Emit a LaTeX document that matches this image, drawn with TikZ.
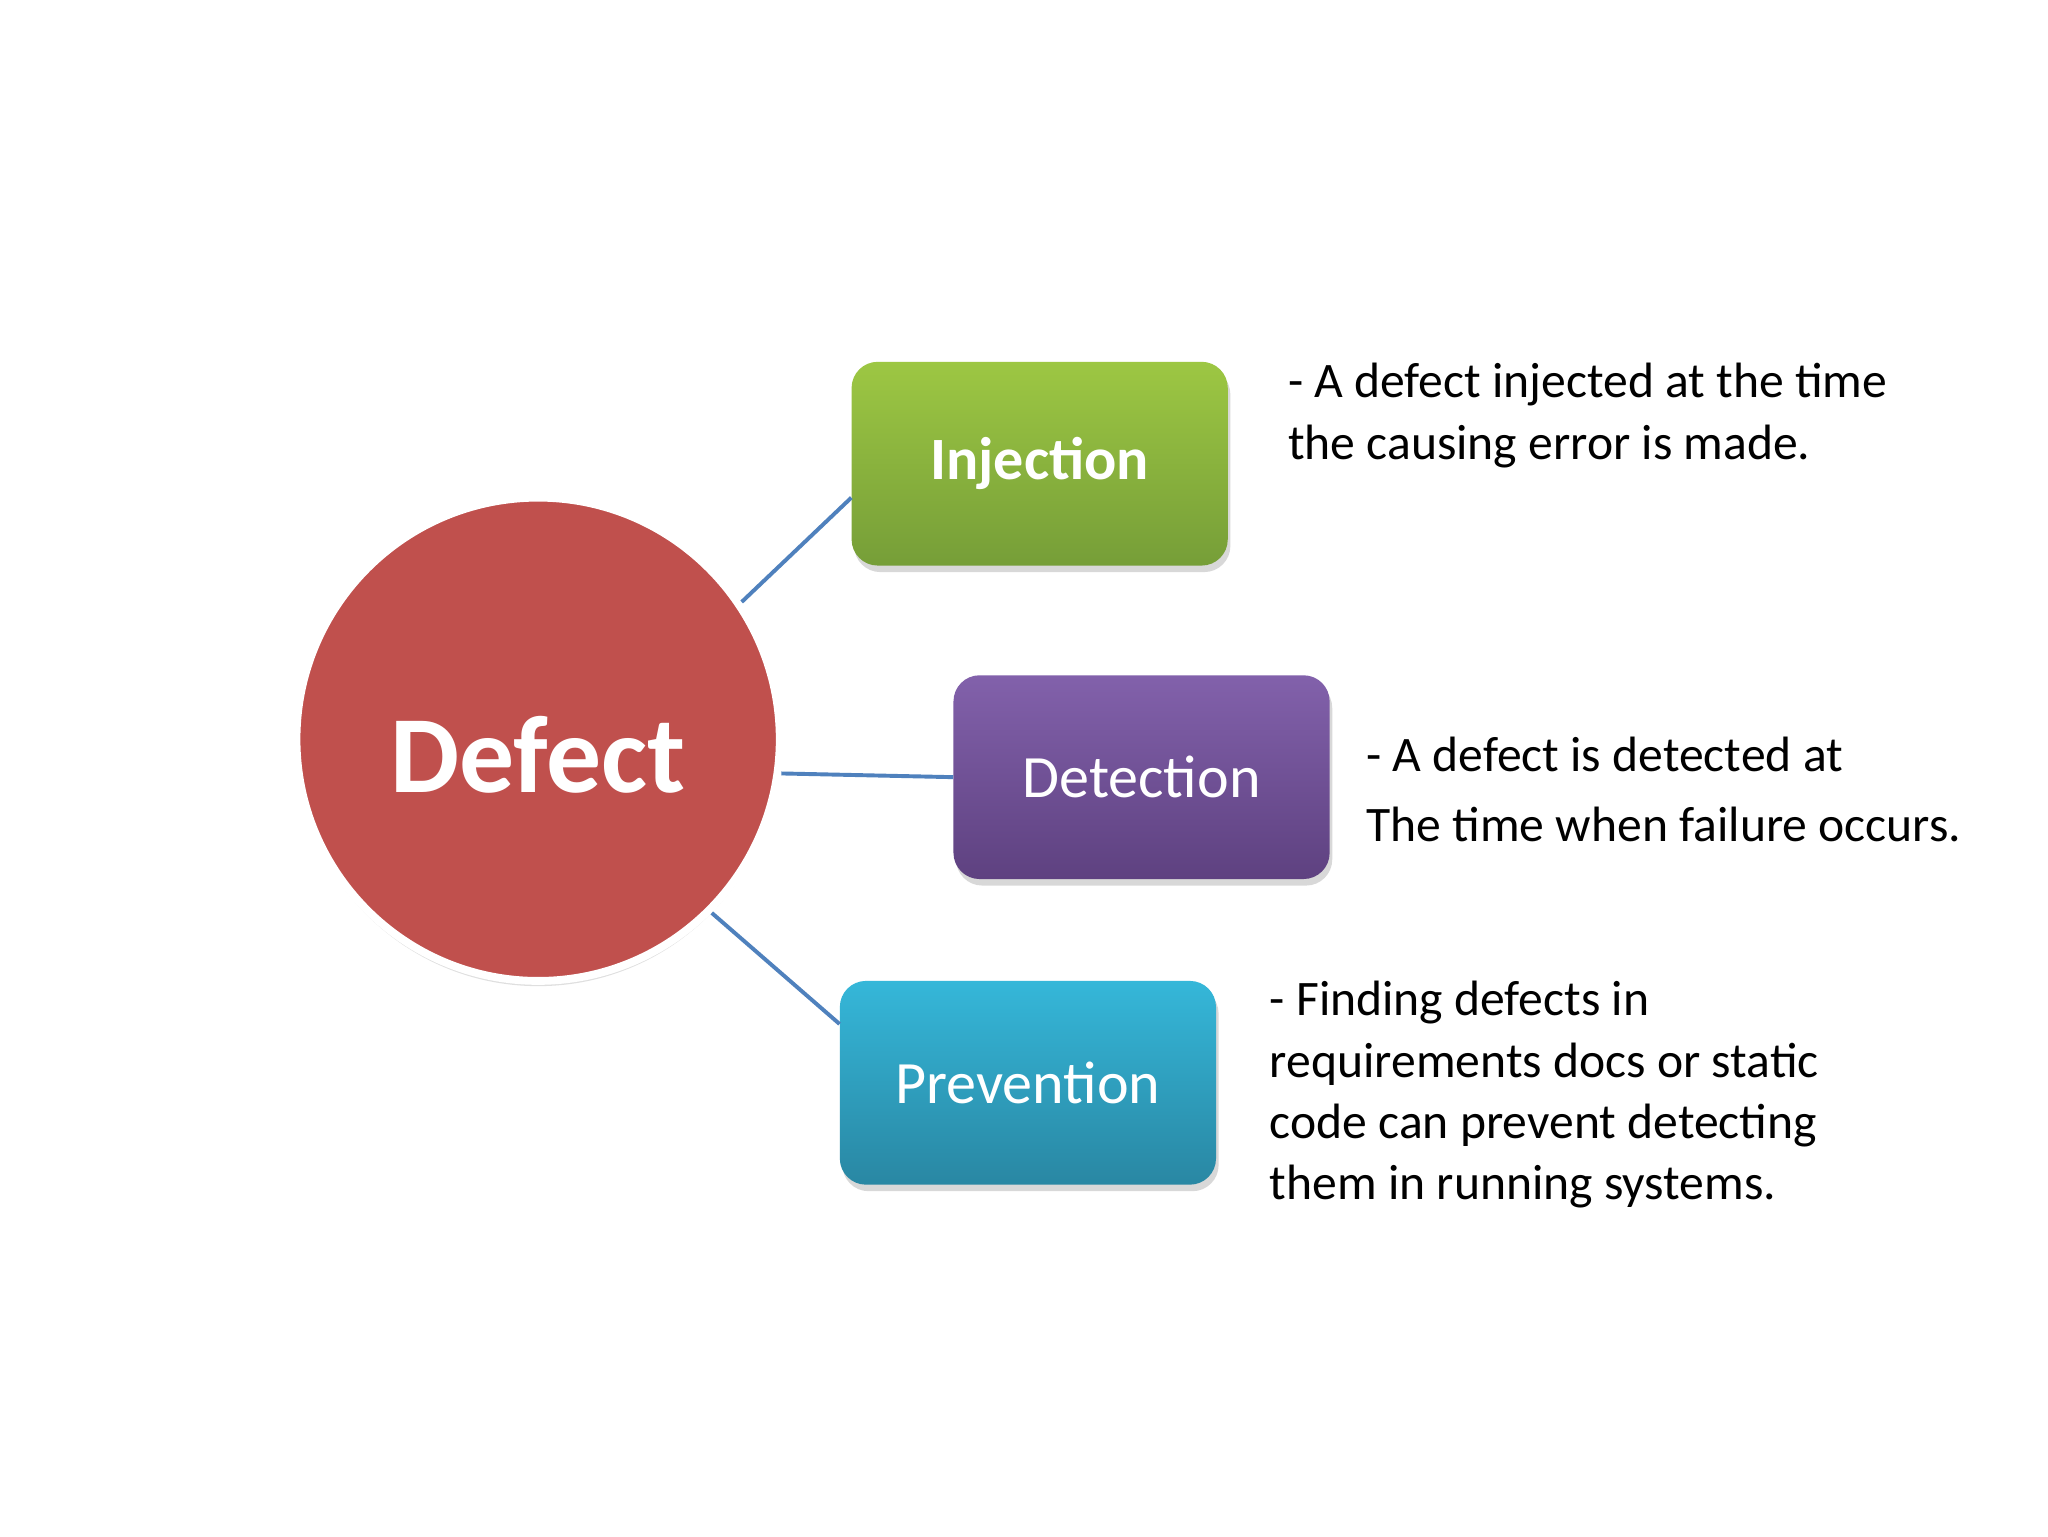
\documentclass[tikz,border=0pt]{standalone}
\usepackage{fontspec}
\setmainfont{Carlito}
\usetikzlibrary{shadows,calc}
\definecolor{defred}{HTML}{C0504D}
\definecolor{linkblue}{HTML}{4F81BD}
\tikzset{
  box/.style={rounded corners=20pt, minimum width=288pt, minimum height=156pt, inner sep=0pt,
     drop shadow={shadow xshift=2pt, shadow yshift=-5pt, opacity=0.3}, text=white,
     font=\fontsize{46}{50}\selectfont},
  link/.style={linkblue, line width=3pt},
  desc/.style={anchor=north west, align=left, inner sep=0pt, font=\fontsize{38}{47}\selectfont}
}
\begin{document}
\begin{tikzpicture}[x=1pt,y=-1pt]
\fill[white] (0,0) rectangle (1568,1176);
\node[circle, minimum size=370pt, fill=defred, draw=white, line width=6pt, inner sep=0pt,
  drop shadow={shadow xshift=0pt, shadow yshift=-4pt, opacity=0.25},
  text=white, font=\bfseries\fontsize{84}{90}\selectfont] (def) at (412,566) {};
\node[text=white, font=\bfseries\fontsize{84}{90}\selectfont] (deflbl) at (412,578) {Defect};
\node[box, top color={rgb,255:red,157;green,199;blue,67}, bottom color={rgb,255:red,118;green,158;blue,56}, font=\bfseries\fontsize{46}{50}\selectfont] (inj) at (796,355) {Injection};
\node[box, top color={rgb,255:red,130;green,97;blue,171}, bottom color={rgb,255:red,94;green,65;blue,128}] (det) at (874,595) {Detection};
\node[box, top color={rgb,255:red,53;green,183;blue,217}, bottom color={rgb,255:red,41;green,135;blue,163}] (pre) at (787,829) {Prevention};
\draw[link] (def.34) -- ([yshift=-26pt]inj.west);
\draw[link] (def.-8) -- (det.west);
\draw[link] (def.-45) -- ([yshift=45pt]pre.west);
\node[desc] (t1) at (986,278) {- A defect injected at the time\\the causing error is made.};
\node[desc, font=\fontsize{38}{54}\selectfont] (t2) at (1046,564) {- A defect is detected at\\The time when failure occurs.};
\node[desc] (t3) at (972,751) {- Finding defects in\\requirements docs or static\\code can prevent detecting\\them in running systems.};
\end{tikzpicture}
\end{document}
